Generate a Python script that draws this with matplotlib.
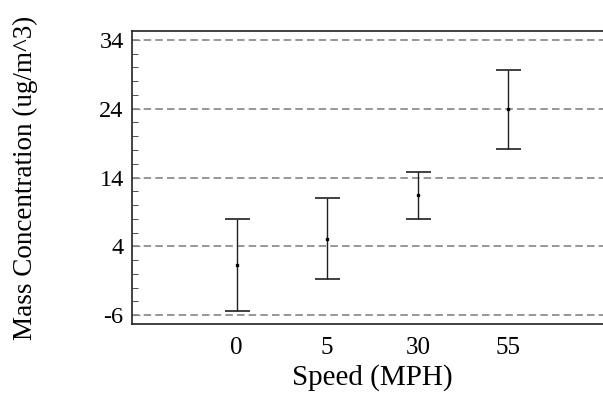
import matplotlib
matplotlib.use("Agg")
import matplotlib.pyplot as plt
from matplotlib.ticker import MultipleLocator

# values
speeds = ["0", "5", "30", "55"]
mean_conc = [1.3, 5.1, 11.4, 23.9]
upper_conc = [7.9, 11.0, 14.8, 29.6]
lower_conc = [-5.4, -0.8, 8.0, 18.2]
y_ticks = [-6, 4, 14, 24, 34]

plt.rcParams['font.family'] = ['Liberation Serif', 'DejaVu Serif']
plt.rcParams['axes.unicode_minus'] = False

positions = list(range(1, len(speeds) + 1))
err_low = [m - lo for m, lo in zip(mean_conc, lower_conc)]
err_high = [hi - m for m, hi in zip(mean_conc, upper_conc)]

fig = plt.figure(figsize=(6.03, 4.04), dpi=100)
# the plot frame runs past the right edge of the picture
ax = fig.add_axes([132/603, 80/404, 481/603, 293/404])

for y in y_ticks:
    ax.axhline(y, color="#858585", lw=1.2, ls=(0, (4.5, 2.5)), zorder=1)

ax.errorbar(positions, mean_conc, yerr=[err_low, err_high], fmt="s",
            ms=2, color="black", ecolor="#202020", elinewidth=1.0,
            capsize=9, capthick=1.2, zorder=3)

ax.set_xlim(1 - 1.157, 4 + 1.157)
ax.set_ylim(-7.3, 35.3)
ax.set_xticks(positions)
ax.set_xticklabels(speeds)
ax.set_yticks(y_ticks)
ax.yaxis.set_minor_locator(MultipleLocator(2))

ax.tick_params(axis="x", length=0, pad=9, labelsize=18)
ax.tick_params(axis="y", which="major", direction="in", length=6,
               color="#858585", labelsize=17.5, pad=6)
ax.tick_params(axis="y", which="minor", direction="in", length=4, color="#333333")

for side in ["left", "bottom", "top"]:
    ax.spines[side].set_linewidth(1.2)
    ax.spines[side].set_color("#222222")
ax.spines["right"].set_visible(False)

ax.set_xlabel("Speed (MPH)", fontsize=21, labelpad=4)
ax.set_ylabel("Mass Concentration (ug/m^3)", fontsize=19.5, labelpad=44)

fig.savefig("out.png", dpi=100)
